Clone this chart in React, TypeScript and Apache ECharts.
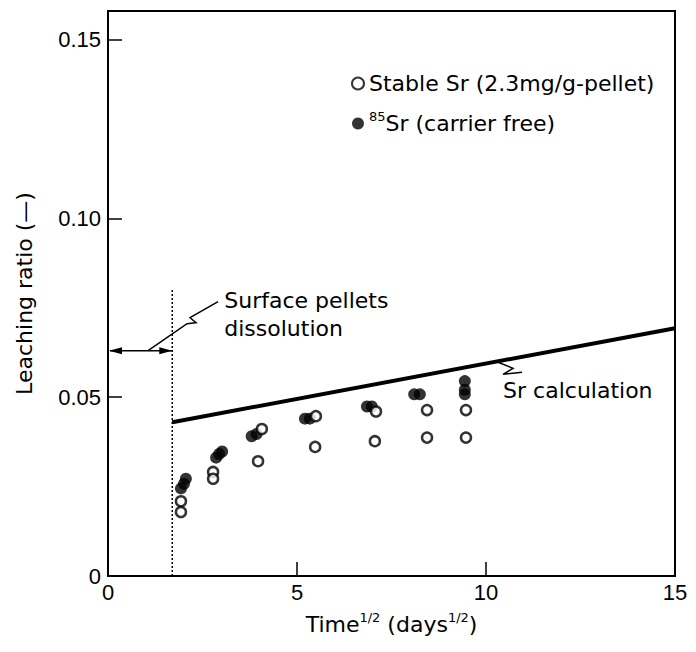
import React, { useEffect, useRef } from "react";
import * as echarts from "echarts";

// ---- data ----
const xTickValues = [0, 5, 10, 15];
const yTickValues = [0, 0.05, 0.1, 0.15];

// Stable Sr (2.3mg/g-pellet): open circles  [time^1/2, leaching ratio]
const stableSr: number[][] = [
  [1.93, 0.0209], [1.93, 0.0179],
  [2.78, 0.0291], [2.78, 0.0272],
  [4.07, 0.0411], [3.97, 0.0321],
  [5.5, 0.0447], [5.48, 0.0361],
  [7.09, 0.046], [7.06, 0.0377],
  [8.44, 0.0464], [8.44, 0.0387],
  [9.47, 0.0464], [9.47, 0.0387],
];

// 85Sr (carrier free): filled circles
const sr85: number[][] = [
  [1.93, 0.0245], [2.01, 0.0258], [2.06, 0.0272],
  [2.86, 0.0331], [2.94, 0.0341], [3.02, 0.0348],
  [3.8, 0.0391], [3.93, 0.0397],
  [5.21, 0.044], [5.34, 0.044],
  [6.85, 0.0474], [6.98, 0.0474],
  [8.1, 0.0508], [8.25, 0.0508],
  [9.44, 0.0545], [9.44, 0.0521], [9.44, 0.0508],
];

// Sr calculation line
const srCalc: number[][] = [[1.7, 0.043], [15, 0.0693]];

// Surface pellets dissolution marker
const dissolutionX = 1.7;
const dissolutionTop = 0.08;
const arrowY = 0.063;
const surfaceLeaderX = 1.06;
const calcLeaderX = 10.32;

const FONT = "'Liberation Sans', Arial, sans-serif";
const TFONT = "'DejaVu Sans', 'Liberation Sans', sans-serif";
const TSIZE = 22;

export default function App() {
  const ref = useRef<HTMLDivElement>(null);

  useEffect(() => {
    if (!ref.current) return;
    const chart = echarts.init(ref.current, undefined, { renderer: "svg" });

    const option: any = {
      animation: false,
      backgroundColor: "#ffffff",
      textStyle: { fontFamily: FONT, color: "#000" },
      grid: {
        left: 108,
        right: 21,
        top: 11,
        bottom: 76,
        show: true,
        borderColor: "#000",
        borderWidth: 2,
        backgroundColor: "transparent",
      },
      legend: {
        orient: "vertical",
        left: 346,
        top: 65,
        itemWidth: 12,
        itemHeight: 12,
        itemGap: 13,
        data: ["Stable Sr (2.3mg/g-pellet)", "85Sr (carrier free)"],
        formatter: (name: string) =>
          name.startsWith("85") ? "{s|85}Sr (carrier free)" : name,
        textStyle: {
          fontFamily: TFONT,
          fontSize: TSIZE,
          color: "#000",
          lineHeight: 27,
          rich: {
            s: { fontSize: 13, verticalAlign: "top", lineHeight: 27, fontFamily: TFONT, color: "#000" },
          },
        },
      },
      xAxis: {
        type: "value",
        min: 0,
        max: 15,
        interval: 5,
        name: "Time{s|1/2} (days{s|1/2})",
        nameLocation: "middle",
        nameGap: 35,
        nameTextStyle: {
          fontFamily: TFONT,
          fontSize: TSIZE,
          color: "#000",
          lineHeight: 27,
          rich: { s: { fontSize: 13, verticalAlign: "top", lineHeight: 27, fontFamily: TFONT, color: "#000" } },
        },
        axisLine: { show: true, lineStyle: { color: "#000", width: 2 } },
        axisTick: { show: true, inside: true, length: 14, lineStyle: { color: "#000", width: 1.5 } },
        axisLabel: {
          fontFamily: FONT,
          fontSize: 22,
          color: "#000",
          margin: 5,
          formatter: (v: number) => (xTickValues.includes(v) ? String(v) : ""),
        },
        splitLine: { show: false },
      },
      yAxis: {
        type: "value",
        min: 0,
        max: 0.158,
        interval: 0.05,
        name: "Leaching ratio (—)",
        nameLocation: "middle",
        nameGap: 73,
        nameTextStyle: { fontFamily: TFONT, fontSize: TSIZE, color: "#000" },
        axisLine: { show: true, lineStyle: { color: "#000", width: 2 } },
        axisTick: { show: true, inside: true, length: 14, lineStyle: { color: "#000", width: 1.5 } },
        axisLabel: {
          fontFamily: FONT,
          fontSize: 22,
          color: "#000",
          margin: 7,
          formatter: (v: number) => {
            const hit = yTickValues.find((t) => Math.abs(t - v) < 1e-6);
            if (hit === undefined) return "";
            return hit === 0 ? "0" : hit.toFixed(2);
          },
        },
        splitLine: { show: false },
      },
      series: [
        {
          name: "Sr calculation",
          type: "line",
          data: srCalc,
          symbol: "none",
          lineStyle: { color: "#000", width: 4 },
          z: 2,
        },
        {
          name: "dissolution boundary",
          type: "line",
          data: [[dissolutionX, 0], [dissolutionX, dissolutionTop]],
          symbol: "none",
          lineStyle: { color: "#000", width: 1.5, type: [2, 2] },
          z: 2,
        },
        {
          name: "85Sr (carrier free)",
          type: "scatter",
          data: sr85,
          symbol: "circle",
          symbolSize: 12,
          itemStyle: { color: "#000" },
          z: 3,
        },
        {
          name: "Stable Sr (2.3mg/g-pellet)",
          type: "scatter",
          data: stableSr,
          symbol: "circle",
          symbolSize: 10,
          itemStyle: { color: "#fff", borderColor: "#000", borderWidth: 2.5 },
          z: 4,
        },
      ],
    };

    chart.setOption(option);

    const px = (x: number, y: number) =>
      chart.convertToPixel({ gridIndex: 0 }, [x, y]) as number[];

    // annotation geometry derived from the axes' scales
    const [x0, ay] = px(0, arrowY);
    const [dx] = px(dissolutionX, arrowY);
    const [lx] = px(surfaceLeaderX, arrowY);
    const calcY =
      srCalc[0][1] +
      ((calcLeaderX - srCalc[0][0]) / (srCalc[1][0] - srCalc[0][0])) *
        (srCalc[1][1] - srCalc[0][1]);
    const [cx, cy] = px(calcLeaderX, calcY);

    const black = { stroke: "#000", lineWidth: 1.5, fill: "none" };
    const txt = (text: string) => ({
      text,
      fontFamily: TFONT,
      fontSize: TSIZE,
      fill: "#000",
      verticalAlign: "middle",
      align: "left",
    });

    chart.setOption({
      graphic: [
        // double-headed arrow
        { type: "line", shape: { x1: x0 + 2, y1: ay, x2: dx, y2: ay }, style: black, z: 10 },
        { type: "polygon", shape: { points: [[x0 + 1, ay], [x0 + 14, ay - 3.5], [x0 + 14, ay + 3.5]] }, style: { fill: "#000" }, z: 10 },
        { type: "polygon", shape: { points: [[dx, ay], [dx - 13, ay - 3.5], [dx - 13, ay + 3.5]] }, style: { fill: "#000" }, z: 10 },
        // leader with break mark to "Surface pellets dissolution"
        {
          type: "polyline",
          shape: {
            points: [
              [lx, ay],
              [lx + 39, ay - 27],
              [lx + 48, ay - 28],
              [lx + 42, ay - 33],
              [lx + 70, ay - 49],
            ],
          },
          style: black,
          z: 10,
        },
        { type: "text", x: dx + 52, y: ay - 50, style: txt("Surface pellets"), z: 10 },
        { type: "text", x: dx + 52, y: ay - 22, style: txt("dissolution"), z: 10 },
        // leader with break mark to "Sr calculation"
        {
          type: "polyline",
          shape: {
            points: [
              [cx, cy + 1],
              [cx + 15, cy + 7],
              [cx + 5, cy + 13],
              [cx + 24, cy + 11],
            ],
          },
          style: black,
          z: 10,
        },
        { type: "text", x: cx + 5, y: cy + 29, style: txt("Sr calculation"), z: 10 },
      ],
    });

    return () => chart.dispose();
  }, []);

  return (
    <div
      ref={ref}
      style={{ position: "fixed", left: 0, top: 0, width: 696, height: 652, background: "#fff" }}
    />
  );
}
